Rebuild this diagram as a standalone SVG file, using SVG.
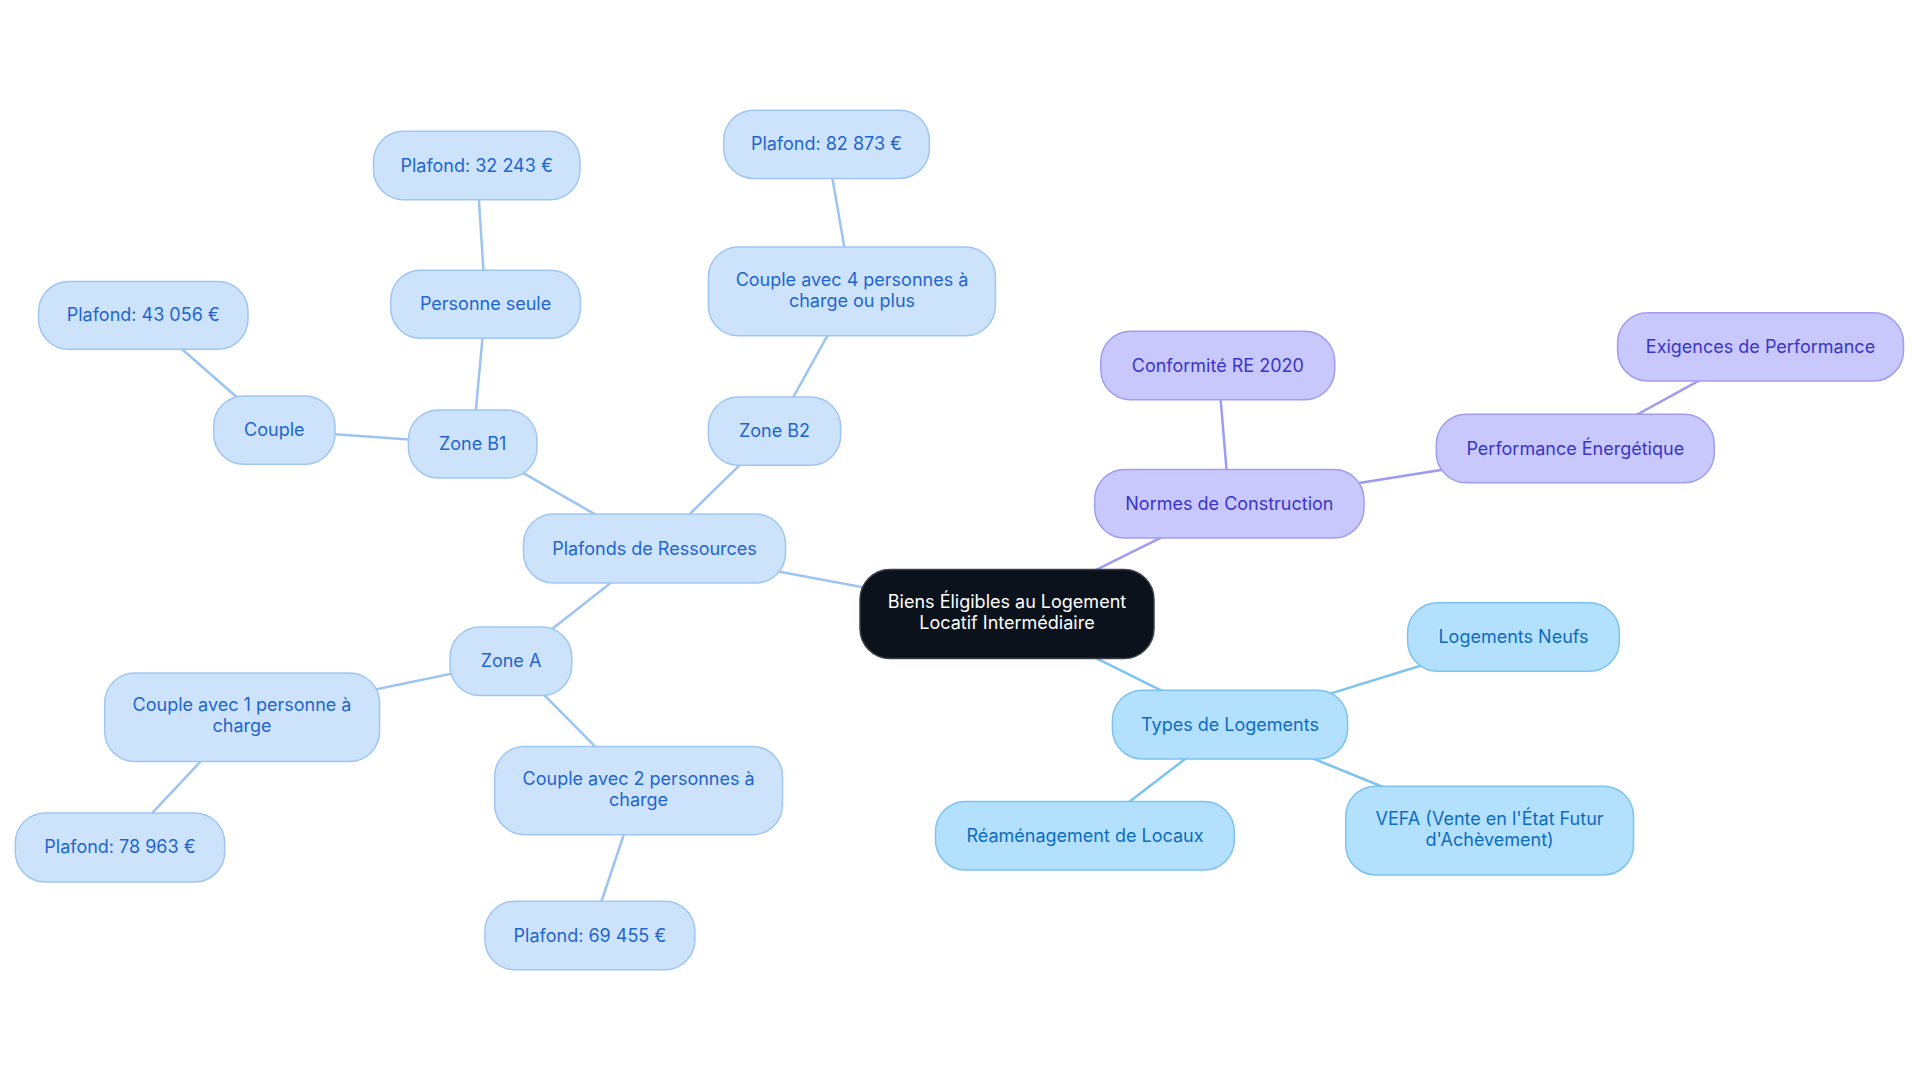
<svg xmlns="http://www.w3.org/2000/svg" width="1920" height="1083" viewBox="0 0 1920 1083">
<style>
text{font-family:Inter,"Noto Sans","Liberation Sans",sans-serif;font-size:18px;text-anchor:middle}
.b rect{fill:#cde3fb;stroke:#9fc6f2;stroke-width:1.5}
.b text{fill:#1f65cf}
.p rect{fill:#c8c8fd;stroke:#a19cf0;stroke-width:1.5}
.p text{fill:#3a35c8}
.c rect{fill:#b3e0fd;stroke:#7cc2f2;stroke-width:1.5}
.c text{fill:#0d6cbf}
.m rect{fill:#0c121c;stroke:#3b4048;stroke-width:1.5}
.m text{fill:#ffffff}
#edges line{stroke-width:2.5;fill:none}
.eb{stroke:#9cc4f2}
.ep{stroke:#9d9bf2}
.ec{stroke:#7cc3f0}
</style>
<rect width="1920" height="1083" fill="#ffffff"/>
<g id="edges">
<line class="eb" x1="1007" y1="614" x2="654.5" y2="548.5"/>
<line class="eb" x1="654.5" y1="548.5" x2="472.7" y2="444"/>
<line class="eb" x1="472.7" y1="444" x2="485.6" y2="304.3"/>
<line class="eb" x1="485.6" y1="304.3" x2="476.7" y2="165.5"/>
<line class="eb" x1="472.7" y1="444" x2="274.3" y2="430"/>
<line class="eb" x1="274.3" y1="430" x2="143.3" y2="315.3"/>
<line class="eb" x1="654.5" y1="548.5" x2="774.5" y2="431"/>
<line class="eb" x1="774.5" y1="431" x2="852" y2="291.4"/>
<line class="eb" x1="852" y1="291.4" x2="826.5" y2="144.3"/>
<line class="eb" x1="654.5" y1="548.5" x2="511" y2="661.3"/>
<line class="eb" x1="511" y1="661.3" x2="242" y2="717.3"/>
<line class="eb" x1="242" y1="717.3" x2="120" y2="847.4"/>
<line class="eb" x1="511" y1="661.3" x2="638.6" y2="790.5"/>
<line class="eb" x1="638.6" y1="790.5" x2="590" y2="935.5"/>
<line class="ep" x1="1007" y1="614" x2="1229.4" y2="503.7"/>
<line class="ep" x1="1229.4" y1="503.7" x2="1217.8" y2="365.5"/>
<line class="ep" x1="1229.4" y1="503.7" x2="1575.3" y2="448.5"/>
<line class="ep" x1="1575.3" y1="448.5" x2="1760.5" y2="346.8"/>
<line class="ec" x1="1007" y1="614" x2="1230" y2="724.6"/>
<line class="ec" x1="1230" y1="724.6" x2="1513.5" y2="637"/>
<line class="ec" x1="1230" y1="724.6" x2="1085" y2="835.7"/>
<line class="ec" x1="1230" y1="724.6" x2="1489.6" y2="830.5"/>
</g>
<g id="n-center" class="m"><rect x="860" y="569.5" width="294" height="89" rx="30"/><text x="1007" y="608">Biens Éligibles au Logement</text><text x="1007" y="629">Locatif Intermédiaire</text></g>
<g id="n-plafonds" class="b"><rect x="523.5" y="514" width="262" height="69" rx="30"/><text x="654.5" y="554.5">Plafonds de Ressources</text></g>
<g id="n-zoneb1" class="b"><rect x="408.4" y="410" width="128.6" height="68" rx="30"/><text x="472.7" y="450">Zone B1</text></g>
<g id="n-personne" class="b"><rect x="390.7" y="270.3" width="189.8" height="68" rx="30"/><text x="485.6" y="310.3">Personne seule</text></g>
<g id="n-p32243" class="b"><rect x="373.5" y="131.2" width="206.5" height="68.5" rx="30"/><text x="476.7" y="171.5">Plafond: 32 243 €</text></g>
<g id="n-couple" class="b"><rect x="213.7" y="396" width="121.3" height="68.2" rx="30"/><text x="274.3" y="436">Couple</text></g>
<g id="n-p43056" class="b"><rect x="38.6" y="281.4" width="209.4" height="67.8" rx="30"/><text x="143.3" y="321.3">Plafond: 43 056 €</text></g>
<g id="n-zoneb2" class="b"><rect x="708.4" y="397" width="132.3" height="68.3" rx="30"/><text x="774.5" y="437">Zone B2</text></g>
<g id="n-couple4" class="b"><rect x="708.4" y="247" width="287" height="88.8" rx="30"/><text x="852" y="285.5">Couple avec 4 personnes à</text><text x="852" y="306.5">charge ou plus</text></g>
<g id="n-p82873" class="b"><rect x="723.7" y="110.2" width="205.7" height="68.2" rx="30"/><text x="826.5" y="150.3">Plafond: 82 873 €</text></g>
<g id="n-zonea" class="b"><rect x="450" y="627" width="121.8" height="68.6" rx="30"/><text x="511" y="667.3">Zone A</text></g>
<g id="n-couple1" class="b"><rect x="104.7" y="673" width="274.9" height="88.6" rx="30"/><text x="242" y="711.3">Couple avec 1 personne à</text><text x="242" y="732.3">charge</text></g>
<g id="n-p78963" class="b"><rect x="15.3" y="813" width="209.4" height="69" rx="30"/><text x="120" y="853.4">Plafond: 78 963 €</text></g>
<g id="n-couple2" class="b"><rect x="494.7" y="746.4" width="287.8" height="88.3" rx="30"/><text x="638.6" y="784.5">Couple avec 2 personnes à</text><text x="638.6" y="805.5">charge</text></g>
<g id="n-p69455" class="b"><rect x="484.9" y="901.2" width="210" height="68.6" rx="30"/><text x="590" y="941.5">Plafond: 69 455 €</text></g>
<g id="n-normes" class="p"><rect x="1094.7" y="469.4" width="269.3" height="68.6" rx="30"/><text x="1229.4" y="509.7">Normes de Construction</text></g>
<g id="n-re2020" class="p"><rect x="1100.8" y="331.3" width="233.9" height="68.5" rx="30"/><text x="1217.8" y="371.5">Conformité RE 2020</text></g>
<g id="n-perfener" class="p"><rect x="1436.3" y="414.3" width="278" height="68.5" rx="30"/><text x="1575.3" y="454.5">Performance Énergétique</text></g>
<g id="n-exigences" class="p"><rect x="1617.6" y="312.7" width="285.9" height="68.2" rx="30"/><text x="1760.5" y="352.8">Exigences de Performance</text></g>
<g id="n-types" class="c"><rect x="1112.4" y="690.3" width="235.2" height="68.6" rx="30"/><text x="1230" y="730.6">Types de Logements</text></g>
<g id="n-neufs" class="c"><rect x="1407.6" y="602.7" width="211.8" height="68.5" rx="30"/><text x="1513.5" y="643">Logements Neufs</text></g>
<g id="n-reamenagement" class="c"><rect x="935.5" y="801.4" width="298.8" height="68.6" rx="30"/><text x="1085" y="841.7">Réaménagement de Locaux</text></g>
<g id="n-vefa" class="c"><rect x="1345.7" y="786.2" width="287.8" height="88.7" rx="30"/><text x="1489.6" y="824.5">VEFA (Vente en l'État Futur</text><text x="1489.6" y="845.5">d'Achèvement)</text></g>
</svg>
